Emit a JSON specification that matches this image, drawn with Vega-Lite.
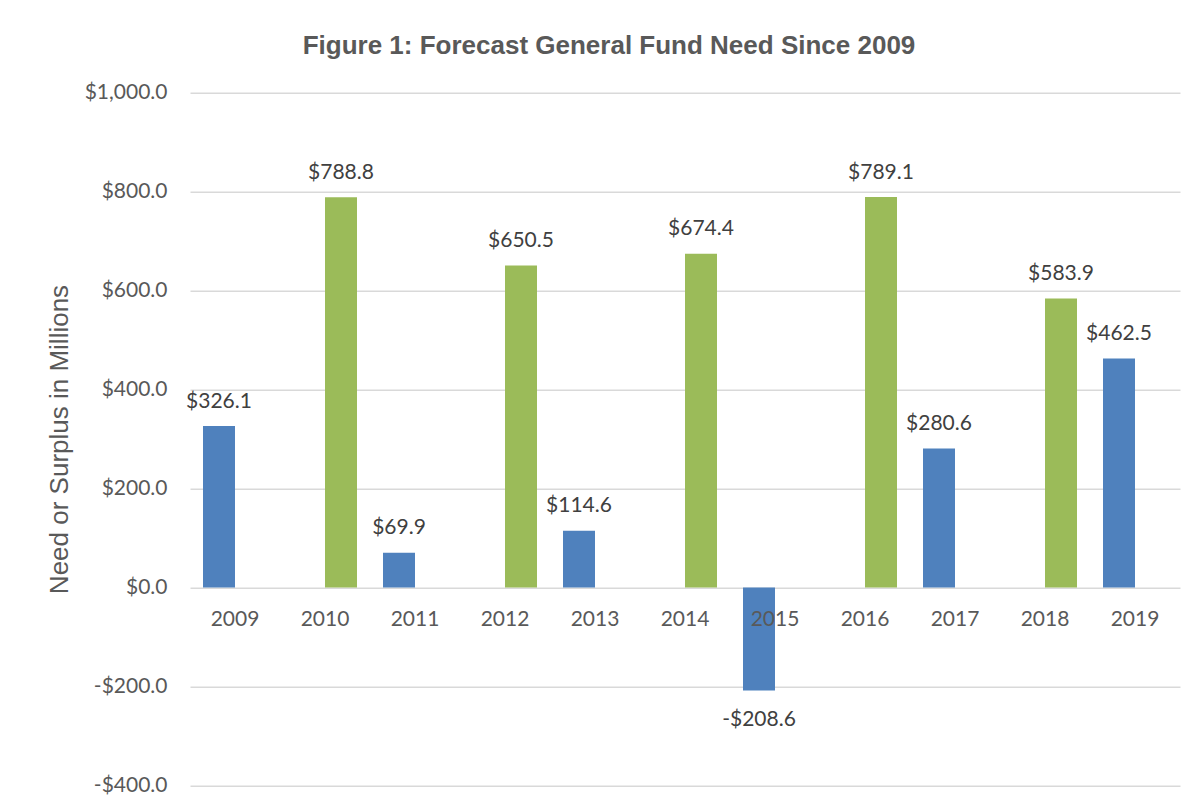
{
  "$schema": "https://vega.github.io/schema/vega-lite/v6.json",
  "width": 990,
  "height": 692.6,
  "autosize": {"type": "none"},
  "padding": {"left": 190, "top": 92.7, "right": 19, "bottom": 22.7},
  "background": "white",
  "title": {
    "text": "Figure 1: Forecast General Fund Need Since 2009",
    "font": "Liberation Sans",
    "fontSize": 26,
    "fontWeight": "bold",
    "color": "#595959",
    "anchor": "middle",
    "baseline": "alphabetic",
    "dx": -76,
    "offset": 1.4
  },
  "data": {
    "values": [
      {"year": "2009", "series": "Odd year", "value": 326.1},
      {"year": "2010", "series": "Even year", "value": 788.8},
      {"year": "2011", "series": "Odd year", "value": 69.9},
      {"year": "2012", "series": "Even year", "value": 650.5},
      {"year": "2013", "series": "Odd year", "value": 114.6},
      {"year": "2014", "series": "Even year", "value": 674.4},
      {"year": "2015", "series": "Odd year", "value": -208.6},
      {"year": "2016", "series": "Even year", "value": 789.1},
      {"year": "2017", "series": "Odd year", "value": 280.6},
      {"year": "2018", "series": "Even year", "value": 583.9},
      {"year": "2019", "series": "Odd year", "value": 462.5}
    ]
  },
  "encoding": {
    "x": {
      "field": "year",
      "type": "ordinal",
      "sort": null,
      "scale": {"paddingInner": 0.2889, "paddingOuter": 0.1444},
      "axis": {
        "orient": "bottom",
        "offset": -198,
        "title": null,
        "domain": false,
        "ticks": false,
        "grid": false,
        "labelAngle": 0,
        "labelFont": "Lato",
        "labelFontSize": 21,
        "labelColor": "#595959",
        "labelBaseline": "alphabetic",
        "labelPadding": 38.4,
        "zindex": 1
      }
    },
    "xOffset": {
      "field": "series",
      "type": "nominal",
      "scale": {"domain": ["Odd year", "Even year"], "paddingInner": 0, "paddingOuter": 0}
    },
    "y": {
      "field": "value",
      "type": "quantitative",
      "scale": {"domain": [-400, 1000], "nice": false, "zero": false},
      "axis": {
        "title": "Need or Surplus in Millions",
        "titleFont": "Liberation Sans",
        "titleFontSize": 26,
        "titleFontWeight": "normal",
        "titleColor": "#595959",
        "titlePadding": 12,
        "values": [-400, -200, 0, 200, 400, 600, 800, 1000],
        "format": "$,.1f",
        "domain": false,
        "ticks": false,
        "grid": true,
        "gridColor": "#d9d9d9",
        "gridWidth": 1.5,
        "labelFont": "Lato",
        "labelFontSize": 21,
        "labelColor": "#595959",
        "labelPadding": 23
      }
    }
  },
  "layer": [
    {
      "mark": {"type": "bar"},
      "encoding": {
        "color": {
          "field": "series",
          "type": "nominal",
          "scale": {"domain": ["Odd year", "Even year"], "range": ["#4F81BD", "#9BBB59"]},
          "legend": null
        }
      }
    },
    {
      "transform": [{"filter": "datum.value >= 0"}],
      "mark": {
        "type": "text",
        "font": "Lato",
        "fontSize": 21,
        "color": "#404040",
        "baseline": "alphabetic",
        "align": "center",
        "dy": -18.5
      },
      "encoding": {
        "text": {"field": "value", "type": "quantitative", "format": "$,.1f"}
      }
    },
    {
      "transform": [{"filter": "datum.value < 0"}],
      "mark": {
        "type": "text",
        "font": "Lato",
        "fontSize": 21,
        "color": "#404040",
        "baseline": "alphabetic",
        "align": "center",
        "dy": 35
      },
      "encoding": {
        "text": {"field": "value", "type": "quantitative", "format": "$,.1f"}
      }
    }
  ],
  "config": {
    "view": {"stroke": null},
    "locale": {
      "number": {
        "decimal": ".",
        "thousands": ",",
        "grouping": [3],
        "currency": ["$", ""],
        "minus": "-"
      }
    }
  }
}
